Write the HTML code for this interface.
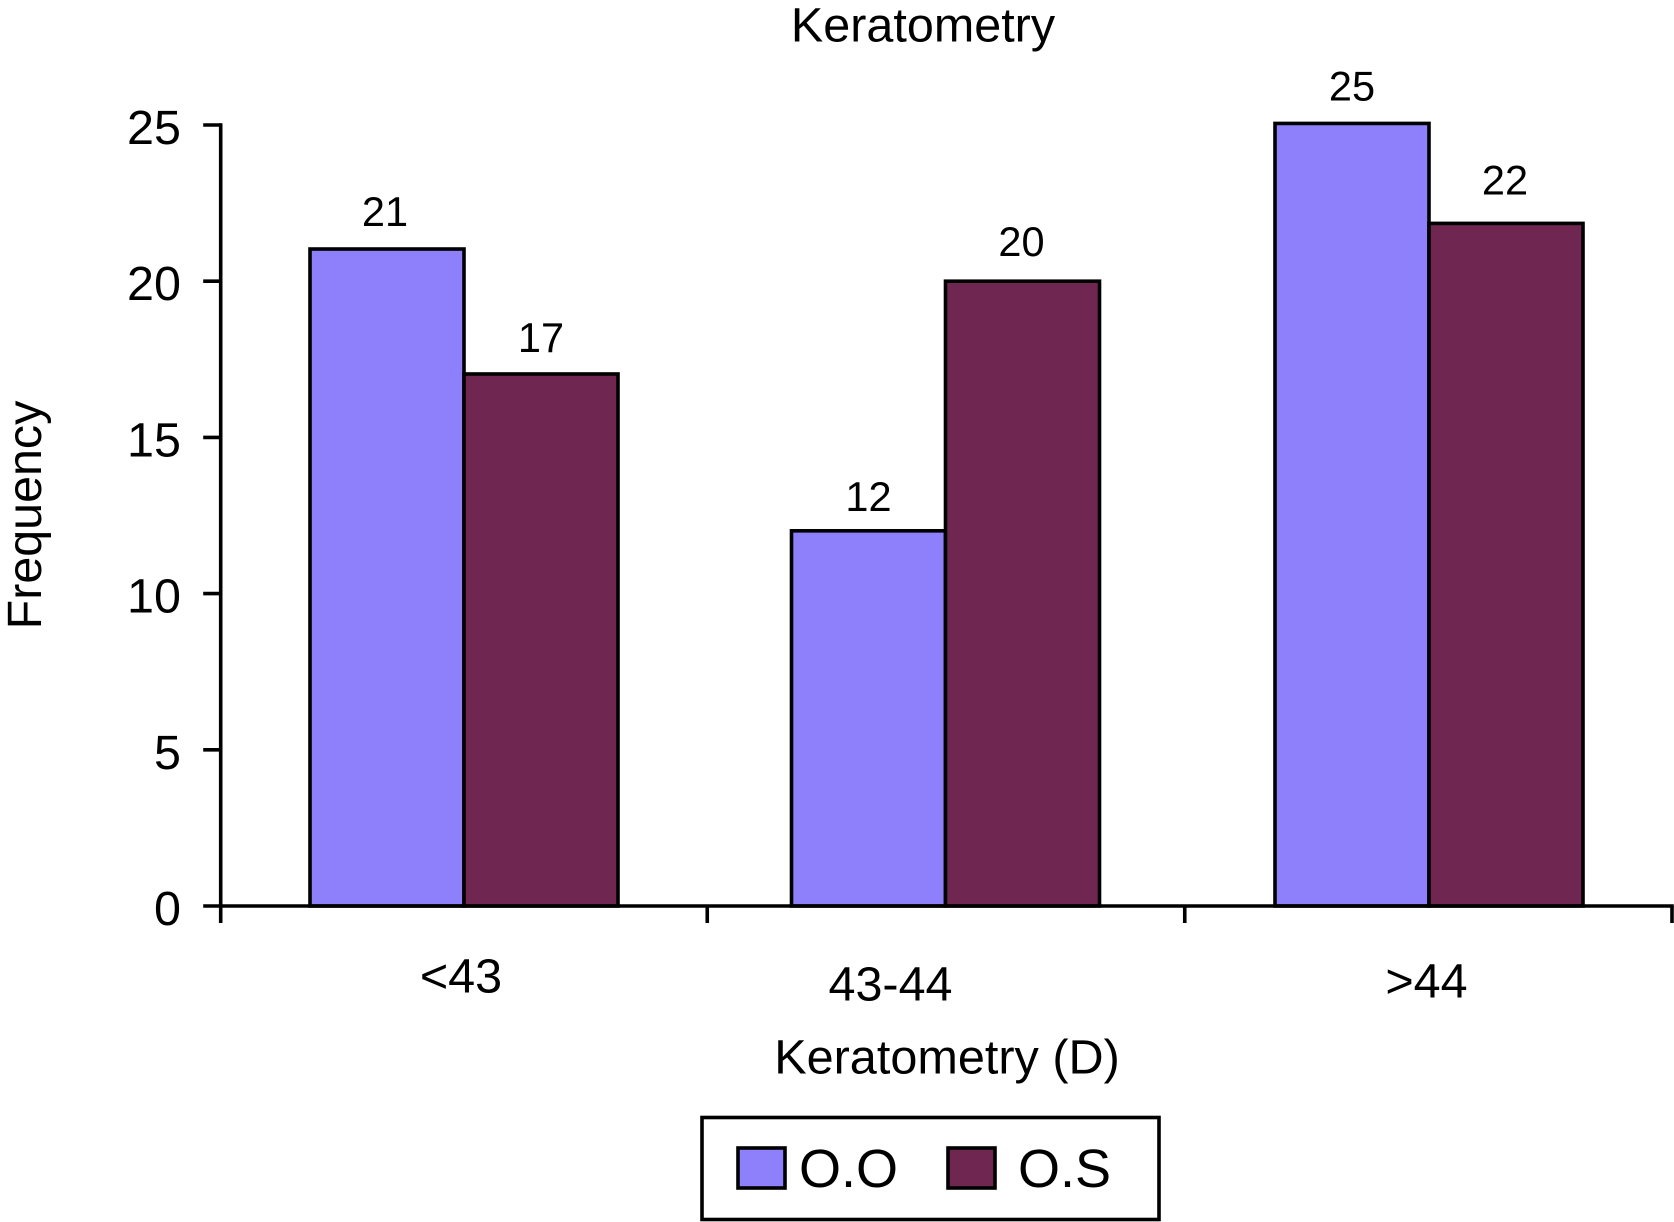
<!DOCTYPE html>
<html lang="en">
<head>
<meta charset="utf-8">
<title>Keratometry</title>
<style>
  html, body { margin: 0; padding: 0; background: #fff; }
  svg { display: block; }
  text { font-family: "Liberation Sans", Arial, sans-serif; fill: #000; }
</style>
</head>
<body>
<svg id="chart" xmlns="http://www.w3.org/2000/svg" width="1674" height="1222" viewBox="0 0 1674 1222">
  <rect x="0" y="0" width="1674" height="1222" fill="#fff"/>
  <text x="923" y="41.5" font-size="48.5" text-anchor="middle">Keratometry</text>
  <text transform="translate(41 515) rotate(-90)" font-size="48.4" text-anchor="middle">Frequency</text>
  <text x="947" y="1073.5" font-size="48.6" text-anchor="middle">Keratometry (D)</text>
  <g id="bars"></g>
  <g id="y-axis"></g>
  <g id="x-axis"></g>
  <g id="value-labels"></g>
  <g>
    <rect x="702" y="1117.5" width="457" height="102" fill="#fff" stroke="#000" stroke-width="3.6"/>
    <rect x="738" y="1148" width="47" height="40" fill="#8e80fb" stroke="#000" stroke-width="3.6"/>
    <text x="799" y="1187" font-size="54">O.O</text>
    <rect x="948" y="1148" width="47" height="40" fill="#6f2752" stroke="#000" stroke-width="3.6"/>
    <text x="1018" y="1187" font-size="54">O.S</text>
  </g>
</svg>
<script>
const categories = ["<43", "43-44", ">44"];
const seriesOO = [21.03, 12.01, 25.05];
const seriesOS = [17.03, 20, 21.85];
const yTickValues = [0, 5, 10, 15, 20, 25];

// Layout constants and axis functions
const SVG_NS = "http://www.w3.org/2000/svg";
const zeroY = 906;
const unitY = 31.24;
const axisLeft = 220.7;
const axisRight = 1672;
const firstCenter = 464;
const bandStep = 482.5;
const barWidth = 154;
const colorOO = "#8e80fb";
const colorOS = "#6f2752";

// Small per-position placement adjustments (styling only)
const centerNudge = [0, -1, 0];
const tickNudge = [2, -3];
const categoryLabelNudge = [[-3, 86.5], [-55, 94.5], [-2.5, 91.5]];
const labelNudgeOO = [[-2, -23], [0, -20], [0, -23]];
const labelNudgeOS = [[0, -22], [-1, -25], [-1, -29]];

function yScale(v) { return zeroY - v * unitY; }
function xCenter(i) { return firstCenter + bandStep * i + centerNudge[i]; }

function make(tag, attrs, parent) {
  const el = document.createElementNS(SVG_NS, tag);
  for (const k in attrs) el.setAttribute(k, attrs[k]);
  parent.appendChild(el);
  return el;
}

const barsGroup = document.getElementById("bars");
const yAxisGroup = document.getElementById("y-axis");
const xAxisGroup = document.getElementById("x-axis");
const valueGroup = document.getElementById("value-labels");

function drawSeries(values, color, side, nudges, key) {
  values.forEach(function (v, i) {
    const left = side === 0 ? xCenter(i) - barWidth : xCenter(i);
    const bar = make("rect", {
      x: left, y: yScale(v), width: barWidth, height: zeroY - yScale(v),
      fill: color, stroke: "#000", "stroke-width": 3.6
    }, barsGroup);
    
    

    const label = make("text", {
      x: left + barWidth / 2 + nudges[i][0],
      y: yScale(v) + nudges[i][1],
      "font-size": 41.5, "text-anchor": "middle"
    }, valueGroup);
    label.textContent = String(Math.round(v));
    
    
  });
}
drawSeries(seriesOO, colorOO, 0, labelNudgeOO, "oo");
drawSeries(seriesOS, colorOS, 1, labelNudgeOS, "os");

// Y axis
const yLine = make("line", {
  x1: axisLeft, x2: axisLeft, y1: yScale(yTickValues[yTickValues.length - 1]) - 1.8, y2: zeroY + 17,
  stroke: "#000", "stroke-width": 3.6
}, yAxisGroup);



yTickValues.forEach(function (t) {
  const tick = make("line", {
    x1: axisLeft - 17.5, x2: axisLeft, y1: yScale(t), y2: yScale(t),
    stroke: "#000", "stroke-width": 3.6
  }, yAxisGroup);
  
  

  const lab = make("text", {
    x: 181, y: yScale(t) + 19, "font-size": 48.5, "text-anchor": "end"
  }, yAxisGroup);
  lab.textContent = String(t);
  
  
});

// X axis
const xLine = make("line", {
  x1: axisLeft, x2: axisRight + 1.8, y1: zeroY, y2: zeroY,
  stroke: "#000", "stroke-width": 3.6
}, xAxisGroup);



categories.forEach(function (c, i) {
  const edge = i === categories.length - 1 ? axisRight : firstCenter + bandStep * (i + 0.5) + tickNudge[i];
  const tick = make("line", {
    x1: edge, x2: edge, y1: zeroY, y2: zeroY + 17,
    stroke: "#000", "stroke-width": 3.6
  }, xAxisGroup);
  
  

  const lab = make("text", {
    x: xCenter(i) + categoryLabelNudge[i][0],
    y: zeroY + categoryLabelNudge[i][1],
    "font-size": 48.5, "text-anchor": "middle"
  }, xAxisGroup);
  lab.textContent = c;
  
  
});
</script>
</body>
</html>
